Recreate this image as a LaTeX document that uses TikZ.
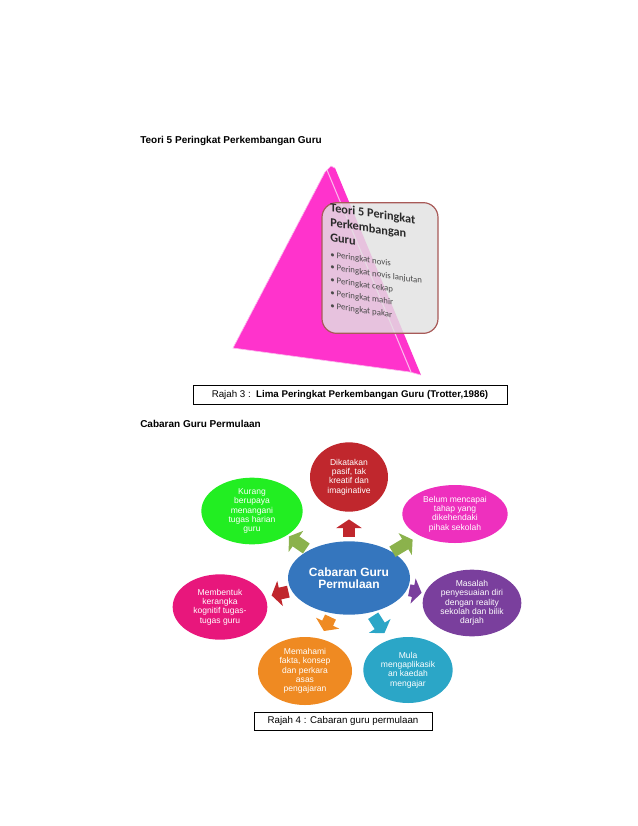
\documentclass[tikz,border=0pt]{standalone}
\usepackage{fontspec}
\setmainfont{Liberation Sans}
\newfontfamily\boxfont{Carlito}
\usetikzlibrary{arrows.meta,calc,shapes.geometric}
\definecolor{PyrFront}{HTML}{FF33CC}
\definecolor{PyrEdge}{HTML}{FBB8EC}
\definecolor{BoxEdge}{HTML}{A85A58}
\definecolor{BoxFill}{HTML}{E2E2E2}
\definecolor{BoxText}{HTML}{2A2A2A}
\definecolor{HubBlue}{HTML}{3576BE}
\definecolor{BubRed}{HTML}{C0272D}
\definecolor{BubPink}{HTML}{EE30BE}
\definecolor{BubGreen}{HTML}{22EE22}
\definecolor{BubPurple}{HTML}{7A3F9D}
\definecolor{BubCrimson}{HTML}{E8177C}
\definecolor{BubOrange}{HTML}{EF8A22}
\definecolor{BubTeal}{HTML}{2BA6C7}
\definecolor{ArrGreen}{HTML}{8BB24C}

\begin{document}
\begin{tikzpicture}[
    x=0.75pt,y=-0.75pt,
    heading/.style={
      anchor=west,
      inner sep=0pt,
      font=\fontsize{7.5}{9}\selectfont\bfseries
    },
    caption/.style={
      draw=black,
      line width=0.5pt,
      inner sep=0pt,
      font=\fontsize{7.3}{9}\selectfont
    },
    bubble/.style={
      ellipse,
      inner sep=0pt,
      text=white,
      align=center,
      font=\fontsize{6.4}{7}\selectfont
    },
    blockarr/.style={line width=9pt,-{Triangle[width=19pt,length=6.5pt]}}
  ]
    \useasboundingbox (0,0) rectangle (638,826);

    \node[heading] (title1) at (140,141) {Teori 5 Peringkat Perkembangan Guru};

    \fill[PyrFront] (325,172) -- (331,166) -- (335,168) -- (421,375) -- (410,372) -- (233,348) -- cycle;
    \draw[PyrEdge,line width=0.8pt] (327,170) -- (411,372);
    \draw[PyrEdge,line width=0.5pt] (335,168) -- (331,166) -- (325,172) -- (233,348) -- (410,372) -- (421,375);

    \begin{scope}[shift={(380,268)},yslant=-0.147]
      \node[draw=BoxEdge,line width=0.9pt,fill=BoxFill,fill opacity=0.82,
        rounded corners=11pt,minimum width=87pt,minimum height=98pt] (theorybox) at (0,0) {};
      \node[transform shape,anchor=north west,inner sep=0pt,align=left,text=BoxText,
        font=\boxfont\fontsize{9.2}{11.2}\selectfont\bfseries] (boxtitle) at (-50,-58)
        {Teori 5 Peringkat\\Perkembangan\\Guru};
      \node[transform shape,anchor=north west,inner sep=0pt,align=left,text=BoxText!85,
        font=\boxfont\fontsize{6.6}{9.6}\selectfont] (boxlist) at ($(boxtitle.south west)+(0,9)$)
        {• Peringkat novis\\• Peringkat novis lanjutan\\• Peringkat cekap\\• Peringkat mahir\\• Peringkat pakar};
    \end{scope}

    \node[caption,minimum width=235.5pt,minimum height=14.3pt] (rajah3) at (350,394.5)
      {Rajah 3 :\ \ \textbf{Lima Peringkat Perkembangan Guru (Trotter,1986)}};

    \node[heading] (title2) at (140,424) {Cabaran Guru Permulaan};

    \node[bubble,fill=HubBlue,minimum width=91.5pt,minimum height=55pt,
      font=\fontsize{9}{9.2}\selectfont\bfseries] (hub) at (349,578) {Cabaran Guru\\Permulaan};
    \node[bubble,fill=BubRed,minimum width=58.5pt,minimum height=52pt] (pasif) at (349,477)
      {Dikatakan\\pasif, tak\\kreatif dan\\imaginative};
    \node[bubble,fill=BubPink,minimum width=79pt,minimum height=43.5pt] (tahap) at (455,514)
      {Belum mencapai\\tahap yang\\dikehendaki\\pihak sekolah};
    \node[bubble,fill=BubGreen,minimum width=76pt,minimum height=50pt] (harian) at (252,511)
      {Kurang\\berupaya\\menangani\\tugas harian\\guru};
    \node[bubble,fill=BubPurple,minimum width=74pt,minimum height=50pt] (reality) at (472,603)
      {Masalah\\penyesuaian diri\\dengan reality\\sekolah dan bilik\\darjah};
    \node[bubble,fill=BubCrimson,minimum width=71pt,minimum height=49pt] (kognitif) at (220,607)
      {Membentuk\\kerangka\\kognitif tugas-\\tugas guru};
    \node[bubble,fill=BubOrange,minimum width=70.5pt,minimum height=51pt] (fakta) at (305,671)
      {Memahami\\fakta, konsep\\dan perkara\\asas\\pengajaran};
    \node[bubble,fill=BubTeal,minimum width=67pt,minimum height=49.5pt] (kaedah) at (408,670)
      {Mula\\mengaplikasik\\an kaedah\\mengajar};

    \foreach \n/\c/\a/\b in {pasif/BubRed/0.41/0.58,harian/ArrGreen/0.44/0.62,tahap/ArrGreen/0.41/0.60,
        kognitif/BubRed/0.47/0.60,reality/BubPurple/0.49/0.59,fakta/BubOrange/0.42/0.57,kaedah/BubTeal/0.41/0.60}
      \draw[blockarr,draw=\c] ($(hub)!\a!(\n)$) -- ($(hub)!\b!(\n)$);

    \node[caption,minimum width=133.5pt,minimum height=13.5pt] (rajah4) at (343,721)
      {Rajah 4 : Cabaran guru permulaan};
  \end{tikzpicture}
\end{document}
